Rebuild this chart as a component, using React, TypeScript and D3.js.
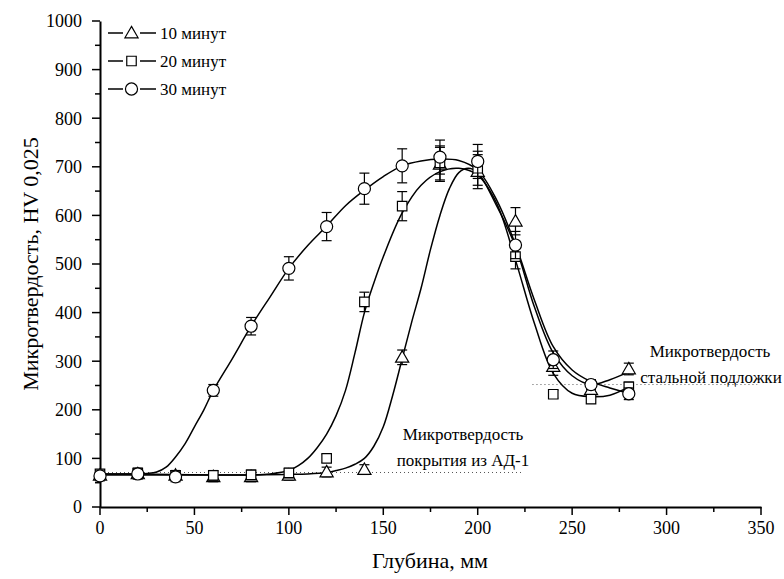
import React, { useEffect, useRef } from "react";
import * as d3 from "d3";

// measured points
const depths = [0, 20, 40, 60, 80, 100, 120, 140, 160, 180, 200, 220, 240, 260, 280];
const hv10 = [65, 68, 65, 62, 62, 65, 72, 77, 308, 705, 690, 588, 289, 241, 284];
const hv20 = [68, 70, 65, 65, 66, 70, 100, 422, 619, 708, 697, 515, 232, 222, 247];
const hv30 = [64, 68, 62, 240, 372, 491, 577, 655, 702, 720, 711, 539, 303, 252, 233];
const err10 = [8, 10, 10, 10, 10, 10, 10, 10, 15, 35, 35, 28, 18, 12, 12];
const err20 = [8, 10, 10, 10, 10, 10, 8, 20, 30, 35, 35, 25, 8, 8, 10];
const err30 = [10, 10, 10, 12, 18, 24, 29, 32, 35, 35, 35, 28, 18, 10, 12];

// fitted curves
const fit10X = [0, 20, 40, 60, 80, 100, 110, 120, 125, 130, 135, 140, 145, 150, 155, 160, 165, 170, 175, 180, 185, 190, 195, 200, 210, 220, 230, 240, 250, 260, 270, 280];
const fit10Y = [66, 66, 66, 66, 66, 67, 68, 71, 75, 80, 88, 100, 125, 165, 230, 305, 380, 450, 530, 600, 655, 688, 697, 688, 620, 536, 412, 317, 270, 252, 262, 278];
const fit20X = [0, 20, 40, 60, 80, 90, 100, 105, 110, 115, 120, 125, 130, 135, 140, 145, 150, 160, 170, 180, 190, 200, 210, 220, 230, 240, 250, 260, 270, 280];
const fit20Y = [68, 68, 67, 66, 66, 68, 75, 85, 100, 122, 150, 188, 240, 317, 400, 461, 515, 605, 662, 690, 697, 683, 625, 508, 378, 275, 234, 227, 230, 247];
const fit30X = [0, 10, 20, 25, 30, 35, 40, 45, 50, 55, 60, 70, 80, 90, 100, 110, 120, 130, 140, 150, 160, 170, 180, 190, 200, 210, 220, 230, 240, 250, 260, 270, 280];
const fit30Y = [68, 68, 68, 69, 72, 82, 103, 130, 165, 200, 240, 305, 372, 432, 491, 538, 578, 620, 652, 680, 702, 712, 716, 713, 693, 632, 540, 426, 330, 282, 258, 245, 234];

const legendLabels = ["10 минут", "20 минут", "30 минут"];
const xTicks = [0, 50, 100, 150, 200, 250, 300, 350];
const yTicks = [0, 100, 200, 300, 400, 500, 600, 700, 800, 900, 1000];

const FONT = "'Liberation Serif', 'Times New Roman', serif";

export default function App() {
  const ref = useRef<SVGSVGElement>(null);

  useEffect(() => {
    const svg = d3.select(ref.current);
    svg.selectAll("*").remove();

    const x = d3.scaleLinear().domain([0, 350]).range([100, 761]);
    const y = d3.scaleLinear().domain([0, 1000]).range([507, 21]);

    // axes
    const xAxis = svg.append("g").attr("transform", `translate(0,${y(0)})`);
    xAxis.call(d3.axisBottom(x).tickValues(d3.range(0, 351, 25)).tickSize(0).tickFormat(() => ""));
    xAxis.select(".domain").attr("stroke", "#000").attr("stroke-width", 2);
    d3.range(0, 351, 25).forEach(v => {
      xAxis.append("line").attr("x1", x(v)).attr("x2", x(v)).attr("y1", 0)
        .attr("y2", v % 50 === 0 ? 8 : 5).attr("stroke", "#000").attr("stroke-width", 1.5);
    });
    xTicks.forEach(v => {
      xAxis.append("text").attr("x", x(v)).attr("y", 27).attr("text-anchor", "middle").attr("fill", "#000")
        .attr("font-family", FONT).attr("font-size", 18).text(v);
    });

    const yAxis = svg.append("g").attr("transform", `translate(${x(0)},0)`);
    yAxis.call(d3.axisLeft(y).tickValues(yTicks).tickSize(0).tickFormat(() => ""));
    yAxis.select(".domain").attr("stroke", "#000").attr("stroke-width", 2);
    d3.range(0, 1001, 50).forEach(v => {
      yAxis.append("line").attr("y1", y(v)).attr("y2", y(v)).attr("x1", 0)
        .attr("x2", v % 100 === 0 ? -8 : -5).attr("stroke", "#000").attr("stroke-width", 1.5);
    });
    yTicks.forEach(v => {
      yAxis.append("text").attr("x", -18).attr("y", y(v)).attr("dy", "0.35em").attr("text-anchor", "end").attr("fill", "#000")
        .attr("font-family", FONT).attr("font-size", 18).text(v);
    });

    svg.append("text").attr("x", 430).attr("y", 568).attr("text-anchor", "middle")
      .attr("font-family", FONT).attr("font-size", 22).text("Глубина, мм");
    svg.append("text").attr("transform", `translate(38,${(y(0) + y(1000)) / 2}) rotate(-90)`)
      .attr("text-anchor", "middle").attr("font-family", FONT).attr("font-size", 22)
      .text("Микротвердость, HV 0,025");

    // dotted reference lines
    svg.append("line").attr("x1", x(0)).attr("x2", x(224)).attr("y1", y(71)).attr("y2", y(71))
      .attr("stroke", "#555").attr("stroke-width", 1).attr("stroke-dasharray", "1,3");
    svg.append("line").attr("x1", x(229)).attr("x2", x(348)).attr("y1", y(252)).attr("y2", y(252))
      .attr("stroke", "#555").attr("stroke-width", 1).attr("stroke-dasharray", "1,3");

    // annotations
    const note = (tx: number, ty: number, s: string) =>
      svg.append("text").attr("x", tx).attr("y", ty).attr("text-anchor", "middle")
        .attr("font-family", FONT).attr("font-size", 17).text(s);
    note(463, 440, "Микротвердость");
    note(463, 466, "покрытия из АД-1");
    note(710, 357, "Микротвердость");
    note(711, 383, "стальной подложки");

    // fit lines
    const line = d3.line<[number, number]>().x(d => x(d[0])).y(d => y(d[1])).curve(d3.curveCatmullRom.alpha(0.5));
    const fits: [number[], number[]][] = [[fit10X, fit10Y], [fit20X, fit20Y], [fit30X, fit30Y]];
    fits.forEach(([fx, fy]) => {
      svg.append("path").datum(fx.map((v, i) => [v, fy[i]] as [number, number]))
        .attr("d", line).attr("fill", "none").attr("stroke", "#000").attr("stroke-width", 1.5);
    });

    const symbols = [d3.symbolTriangle, d3.symbolSquare, d3.symbolCircle];
    const sizes = [75, 90, 115];
    const series = [[hv10, err10], [hv20, err20], [hv30, err30]];

    series.forEach(([vals, errs], s) => {
      const g = svg.append("g");
      depths.forEach((dx, i) => {
        const cx = x(dx), top = y(vals[i] + errs[i]), bot = y(vals[i] - errs[i]);
        g.append("line").attr("x1", cx).attr("x2", cx).attr("y1", top).attr("y2", bot).attr("stroke", "#000").attr("stroke-width", 1.2);
        [top, bot].forEach(yy => g.append("line").attr("x1", cx - 5).attr("x2", cx + 5).attr("y1", yy).attr("y2", yy)
          .attr("stroke", "#000").attr("stroke-width", 1.2));
      });
      g.selectAll("path.mk").data(depths).enter().append("path")
        .attr("d", d3.symbol().type(symbols[s]).size(sizes[s])())
        .attr("transform", (d, i) => `translate(${x(d)},${y(vals[i]) + (s === 0 ? 1 : 0)})`)
        .attr("fill", "#fff").attr("stroke", "#000").attr("stroke-width", 1.2);
    });

    // legend
    const rows = [33, 61, 89];
    legendLabels.forEach((lab, i) => {
      const lg = svg.append("g");
      lg.append("line").attr("x1", 108).attr("x2", 123).attr("y1", rows[i]).attr("y2", rows[i]).attr("stroke", "#000").attr("stroke-width", 1.5);
      lg.append("line").attr("x1", 140).attr("x2", 156).attr("y1", rows[i]).attr("y2", rows[i]).attr("stroke", "#000").attr("stroke-width", 1.5);
      lg.append("path").attr("d", d3.symbol().type(symbols[i]).size(sizes[i])())
        .attr("transform", `translate(131.5,${rows[i] + (i === 0 ? 1 : 0)})`)
        .attr("fill", "#fff").attr("stroke", "#000").attr("stroke-width", 1.2);
      lg.append("text").attr("x", 160).attr("y", rows[i] + 6).attr("font-family", FONT).attr("font-size", 17).text(lab);
    });
  }, []);

  return (
    <svg ref={ref} width={784} height={579}
      style={{ position: "absolute", left: 0, top: 0, background: "#fff" }} />
  );
}
